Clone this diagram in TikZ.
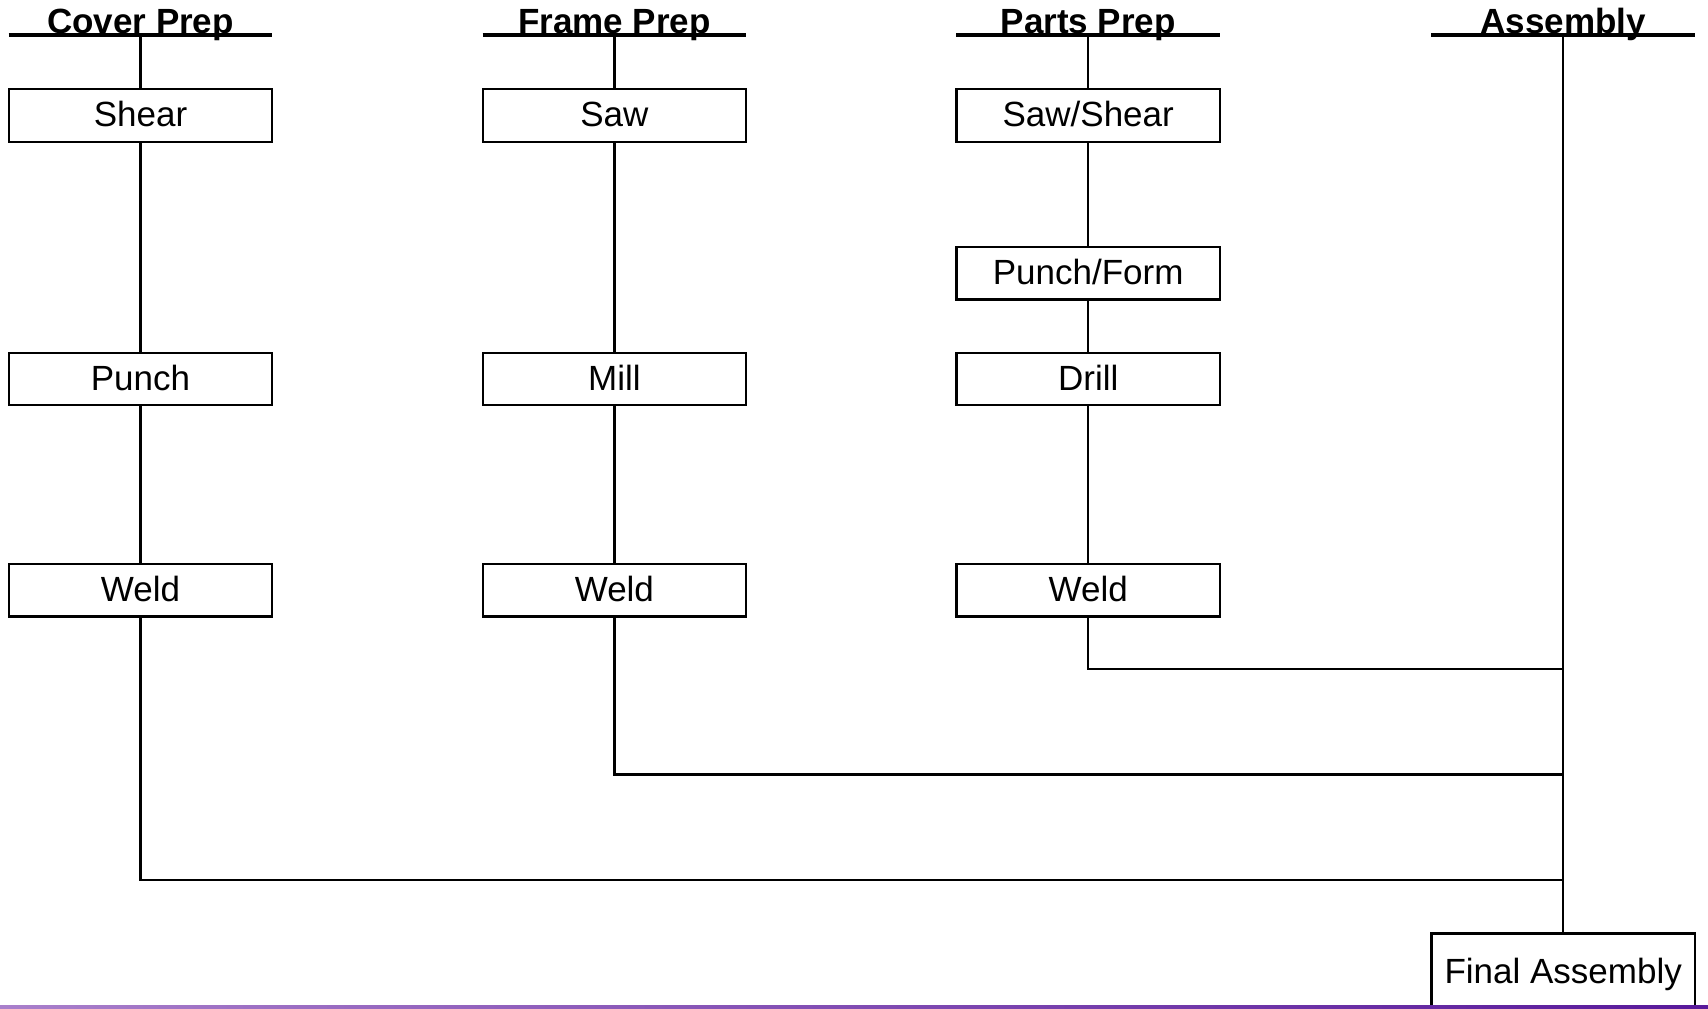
\documentclass[tikz,border=0pt]{standalone}
\usepackage{fontspec}
\setmainfont{Liberation Sans}
\definecolor{bandleft}{HTML}{A97FCB}
\definecolor{bandright}{HTML}{58199A}
\begin{document}
\begin{tikzpicture}[x=1pt, y=-1pt, line width=2.2pt,
  every node/.style={font=\fontsize{35}{42}\selectfont},
  stage/.style={draw, minimum width=263.6pt, minimum height=52.3pt, inner sep=0pt,
    text height=26pt, text depth=3.5pt},
  head/.style={font=\fontsize{35}{42}\selectfont\bfseries, anchor=base, inner sep=0pt},
  headline/.style={line width=3.2pt}]
  \useasboundingbox (0,0) rectangle (1708,1009);
  % column headings
  \node[head] (hcover) at (140.5,33) {Cover Prep};
  \node[head] (hframe) at (614.4,33) {Frame Prep};
  \node[head] (hparts) at (1088.2,33) {Parts Prep};
  \node[head] (hasm) at (1563.2,33) {Assembly};
  \draw[headline] (8.7,35) -- (272.3,35);
  \draw[headline] (482.6,35) -- (746.2,35);
  \draw[headline] (956.4,35) -- (1220,35);
  \draw[headline] (1431.3,35) -- (1695,35);
  \coordinate (tcover) at (140.5,35);
  \coordinate (tframe) at (614.4,35);
  \coordinate (tparts) at (1088.2,35);
  \coordinate (tasm) at (1563.2,35);
  % stations
  \node[stage] (shear) at (140.5,115.5) {Shear};
  \node[stage] (punch) at (140.5,379) {Punch};
  \node[stage] (cweld) at (140.5,590.4) {Weld};
  \node[stage] (saw) at (614.4,115.5) {Saw};
  \node[stage] (mill) at (614.4,379) {Mill};
  \node[stage] (fweld) at (614.4,590.4) {Weld};
  \node[stage] (sawshear) at (1088.2,115.5) {Saw/Shear};
  \node[stage] (punchform) at (1088.2,273.4) {Punch/Form};
  \node[stage] (drill) at (1088.2,379) {Drill};
  \node[stage] (pweld) at (1088.2,590.4) {Weld};
  \node[stage, minimum height=77pt] (final) at (1563.2,972) {Final Assembly};
  % joins on the assembly line
  \coordinate (jparts) at (1563.2,668.8);
  \coordinate (jframe) at (1563.2,774.5);
  \coordinate (jcover) at (1563.2,880.2);
  % flow
  \draw (tcover) -- (shear);
  \draw (shear) -- (punch);
  \draw (punch) -- (cweld);
  \draw (cweld) |- (jcover);
  \draw (tframe) -- (saw);
  \draw (saw) -- (mill);
  \draw (mill) -- (fweld);
  \draw (fweld) |- (jframe);
  \draw (tparts) -- (sawshear);
  \draw (sawshear) -- (punchform);
  \draw (punchform) -- (drill);
  \draw (drill) -- (pweld);
  \draw (pweld) |- (jparts);
  \draw (tasm) -- (final);
  % footer band
  \shade[left color=bandleft, right color=bandright] (0,1005.8) rectangle (1708,1009);
\end{tikzpicture}
\end{document}
